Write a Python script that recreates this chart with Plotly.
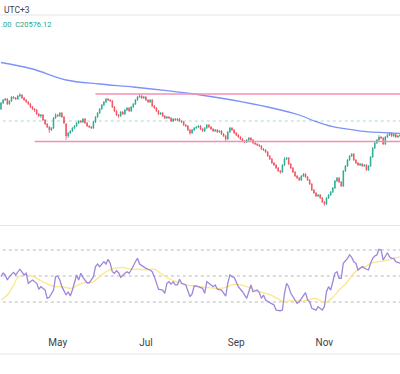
import plotly.graph_objects as go

# ---------------- data (daily bars, index 0..190) ----------------
opens = [
    21550,21850,22000,22050,21800,21950,22150,22100,22050,22200,
    22250,22100,22000,21900,21800,21650,21550,21500,21300,21200,
    21250,21000,20800,20650,20500,20600,21100,21250,21200,21350,
    21150,20800,20200,20350,20450,20600,20700,20850,20950,20900,
    21050,20850,20700,20650,20600,20900,21150,21350,
    21550,21750,21900,22050,22000,21950,21650,21450,21250,21200,
    21400,21300,21500,21600,21450,21650,21800,22000,22150,22200,
    22100,22150,22000,21900,22000,21700,21600,21450,21300,21350,
    21200,21100,21150,21100,20950,21050,21000,21050,20950,20900,
    20750,20700,20500,20350,20500,20600,20650,
    20700,20550,20450,20600,20750,20650,20550,20450,20500,20400,
    20450,20300,20200,20050,20400,20600,20500,20350,20250,20150,
    20050,19950,19900,20000,20100,20000,19850,19800,19750,19700,
    19550,19500,19400,19200,19050,18850,18750,18600,18450,18400,
    18750,19050,19100,18800,18600,18400,18200,18100,
    18000,18200,18300,18150,18000,17800,17500,17350,17200,17250,
    17100,16900,16800,17100,17250,17400,17600,17950,18100,17900,
    17700,18450,18700,19000,19200,19300,19000,18850,18750,18800,
    18700,18750,18500,18700,19150,19600,19850,20000,20150,20100,
    19800,20150,20250,20350,20200,20300,20150,20200,
]
highs = [
    21900,22050,22100,22100,22000,22200,22200,22150,22250,22350,
    22300,22150,22050,21950,21850,21700,21600,21550,21350,21300,
    21300,21050,20850,20700,20650,21150,21350,21300,21400,21400,
    21200,20850,20400,20500,20650,20750,20900,21000,21000,21100,
    21100,20900,20750,20700,20950,21200,21400,21600,
    21800,21950,22100,22100,22050,22000,21700,21500,21300,21450,
    21450,21550,21650,21650,21700,21850,22050,22200,22300,22250,
    22200,22200,22050,22050,22050,21750,21650,21500,21400,21400,
    21250,21200,21200,21150,21100,21100,21100,21100,21000,20950,
    20800,20750,20550,20550,20650,20700,20750,
    20750,20600,20650,20800,20800,20700,20600,20550,20550,20500,
    20500,20350,20250,20450,20650,20650,20550,20400,20300,20200,
    20100,20000,20050,20150,20150,20050,19900,19850,19800,19750,
    19600,19550,19450,19250,19100,18900,18800,18650,18500,18800,
    19150,19150,19150,18850,18650,18450,18250,18150,
    18250,18350,18350,18200,18050,17850,17550,17400,17300,17300,
    17150,16950,17150,17300,17450,17650,18000,18150,18150,17950,
    18500,18750,19050,19250,19350,19350,19050,18900,18850,18850,
    18800,18800,18750,19200,19650,19900,20050,20250,20200,20150,
    20200,20350,20400,20400,20350,20350,20250,20300,
]
lows = [
    21500,21800,21950,21750,21750,21900,22050,22000,22000,22150,
    22050,21950,21850,21750,21600,21500,21400,21250,21150,21100,
    20950,20750,20600,20350,20450,20550,21050,21150,21150,21100,
    20800,20000,20100,20300,20400,20550,20650,20800,20850,20850,
    20800,20650,20600,20550,20550,20850,21100,21300,
    21500,21700,21850,21950,21900,21600,21400,21200,21100,21150,
    21250,21250,21450,21400,21400,21600,21750,21950,22100,22050,
    22050,21950,21850,21850,21650,21550,21400,21250,21250,21150,
    21050,21050,21050,20900,20900,20950,20950,20900,20850,20700,
    20650,20450,20250,20300,20450,20550,20600,
    20500,20400,20400,20550,20600,20500,20400,20400,20350,20350,
    20250,20150,19950,20000,20350,20450,20300,20200,20100,20000,
    19900,19850,19850,19950,19950,19800,19750,19700,19650,19500,
    19450,19350,19150,19000,18800,18700,18550,18400,18300,18350,
    18700,19000,18750,18550,18350,18150,18050,17950,
    17950,18150,18100,17950,17750,17450,17300,17150,17150,17050,
    16850,16700,16750,17050,17200,17350,17550,17900,17850,17650,
    17650,18400,18650,18950,19150,18950,18800,18700,18700,18650,
    18650,18450,18450,18650,19100,19550,19800,19950,20050,19750,
    19750,20100,20200,20150,20150,20100,20100,20150,
]
closes = [
    21850,22000,22050,21800,21950,22150,22100,22050,22200,22250,
    22100,22000,21900,21800,21650,21550,21500,21300,21200,21250,
    21000,20800,20650,20500,20600,21100,21250,21200,21350,21150,
    20850,20200,20350,20450,20600,20700,20850,20950,20900,21050,
    20850,20700,20650,20600,20900,21150,21350,21550,
    21750,21900,22050,22000,21950,21650,21450,21250,21200,21400,
    21300,21500,21600,21450,21650,21800,22000,22150,22200,22100,
    22150,22000,21900,22000,21700,21600,21450,21300,21350,21200,
    21100,21150,21100,20950,21050,21000,21050,20950,20900,20750,
    20700,20500,20350,20500,20600,20650,20700,
    20550,20450,20600,20750,20650,20550,20450,20500,20400,20450,
    20300,20200,20050,20400,20600,20500,20350,20250,20150,20050,
    19950,19900,20000,20100,20000,19850,19800,19750,19700,19550,
    19500,19400,19200,19050,18850,18750,18600,18450,18400,18750,
    19050,19100,18800,18600,18400,18200,18100,18000,
    18200,18300,18150,18000,17800,17500,17350,17200,17250,17100,
    16900,16800,17100,17250,17400,17600,17950,18100,17900,17700,
    18450,18700,19000,19200,19300,19000,18850,18750,18800,18700,
    18750,18500,18700,19150,19600,19850,20000,20150,20100,19800,
    20150,20250,20350,20200,20300,20150,20200,20250,
]

# long moving average (blue line), read at selected bars
ma_idx = [0, 15, 31, 47, 63, 79, 95, 110, 127, 142, 150, 158, 166, 174, 190]
ma_vals = [23875, 23550, 23000, 22800, 22650, 22465, 22250, 22000, 21650,
           21250, 20915, 20665, 20535, 20415, 20335]

# RSI (purple) and its moving average (yellow)
rsi_idx = [0,1,2,3,4,6,7,8,9,11,12,13,15,17,18,19,21,22,23,25,
           26,27,28,29,30,31,32,33,34,35,36,37,38,39,41,42,44,45,46,47,
           49,50,51,52,53,54,55,56,57,59,60,61,62,64,65,66,68,69,71,72,
           73,74,75,77,78,79,80,81,82,83,84,85,86,88,89,90,91,92,93,95,
           96,97,98,99,101,102,103,105,107,108,109,110,111,112,113,115,116,117,118,119,
           120,122,123,124,125,126,128,130,131,133,134,135,136,137,138,140,141,142,143,145,
           146,147,148,150,151,152,153,154,155,156,157,158,159,160,161,162,163,165,166,167,
           168,169,170,171,172,174,175,176,177,178,179,180,181,182,183,184,185,186,187,188,
           190]
rsi_vals = [49.5,52.3,50.8,46.9,49.5,52.8,50.8,53.3,55.2,50.8,52.1,44.4,46.9,44.4,39.8,41.8,39.2,32.8,33.6,39.2,
            49.5,50.0,46.9,41.8,37.9,35.4,37.9,34.6,39.2,44.4,50.8,46.9,52.1,49.0,44.8,44.8,49.5,57.2,59.2,57.2,
            61.0,59.2,62.8,59.8,53.3,52.1,54.1,52.5,49.0,52.1,53.3,52.1,54.6,61.0,63.6,59.2,56.7,55.9,54.6,53.3,
            49.5,44.4,39.8,39.2,36.7,44.4,45.6,43.8,45.6,43.1,43.1,47.5,44.4,43.1,37.9,34.1,36.2,42.3,42.3,41.3,
            40.5,36.7,45.6,44.4,41.8,43.1,39.8,39.2,34.6,44.4,50.8,49.5,49.0,45.6,41.8,37.9,35.4,32.8,37.9,43.1,
            37.9,39.2,37.2,32.8,35.4,31.5,29.5,27.7,23.8,23.3,23.8,36.7,44.4,41.8,36.7,31.5,29.0,30.2,32.8,37.2,
            31.5,30.2,25.2,23.8,26.4,25.2,23.8,26.4,37.9,41.8,39.2,45.6,52.1,53.3,48.2,48.2,59.8,63.6,66.2,64.4,
            61.0,59.8,54.6,55.9,57.2,55.2,54.6,59.8,63.6,65.4,66.2,70.5,70.0,62.3,65.4,67.9,64.8,63.6,63.6,61.0,
            59.8]
rsima_idx = [0,3,6,8,11,14,17,20,23,26,29,31,34,36,39,42,44,47,50,53,
             57,60,63,66,69,73,76,79,82,85,88,92,95,99,104,107,111,114,117,120,
             123,127,130,133,135,138,141,144,147,150,152,154,156,158,161,165,168,171,174,177,
             180,184,187,190]
rsima_vals = [31.5,35.4,43.1,49.0,50.8,50.2,48.2,45.6,43.1,41.8,41.8,41.0,40.5,42.5,44.8,44.8,45.6,49.5,53.3,55.4,
              56.7,55.9,55.2,55.2,54.6,55.2,52.1,49.0,46.4,44.8,43.1,42.3,41.8,41.0,40.5,41.3,43.6,43.1,41.8,39.8,
              37.9,36.2,34.1,31.5,30.2,31.0,30.8,30.8,32.1,32.8,31.0,29.5,31.0,33.6,39.2,45.6,52.1,55.9,57.7,60.2,
              61.0,62.3,63.6,64.8]

month_idx = [27, 69, 112, 154]
month_labels = ["May", "Jul", "Sep", "Nov"]

resistance_level = 22300
resistance_start = 45
support_level = 19925
support_start = 16
last_price_level = 20950
rsi_bands = [70, 50, 30]
last_close_text = "C20576.12"

# ---------------- figure ----------------
W, H = 400, 374
bars = list(range(len(closes)))
x_end = bars[-1] + 6

def py(px):
    return 1 - px / H

fig = go.Figure()

fig.add_trace(go.Candlestick(
    x=bars, open=opens, high=highs, low=lows, close=closes,
    increasing=dict(line=dict(color="#22a88e", width=0.7), fillcolor="#22a88e"),
    decreasing=dict(line=dict(color="#f04b5a", width=0.7), fillcolor="#f04b5a"),
    whiskerwidth=0, xaxis="x", yaxis="y", hoverinfo="skip",
))

fig.add_trace(go.Scatter(
    x=ma_idx, y=ma_vals, mode="lines", line=dict(color="#7d93f7", width=1.3, shape="spline"),
    xaxis="x", yaxis="y", hoverinfo="skip",
))

fig.add_trace(go.Scatter(
    x=[bars[0] - 2, x_end], y=[last_price_level] * 2, mode="lines",
    line=dict(color="rgba(8,153,129,0.35)", width=1, dash="dot"),
    xaxis="x", yaxis="y", hoverinfo="skip",
))
fig.add_trace(go.Scatter(
    x=[resistance_start, x_end], y=[resistance_level] * 2, mode="lines",
    line=dict(color="#f48fb1", width=1.6), xaxis="x", yaxis="y", hoverinfo="skip",
))
fig.add_trace(go.Scatter(
    x=[support_start, x_end], y=[support_level] * 2, mode="lines",
    line=dict(color="#f48fb1", width=1.6), xaxis="x", yaxis="y", hoverinfo="skip",
))

for lvl in rsi_bands:
    fig.add_trace(go.Scatter(
        x=[bars[0] - 2, x_end], y=[lvl, lvl], mode="lines",
        line=dict(color="#b8b8b8", width=1, dash="3px,3px"),
        xaxis="x", yaxis="y2", hoverinfo="skip",
    ))

fig.add_trace(go.Scatter(
    x=rsima_idx, y=rsima_vals, mode="lines", line=dict(color="#fbe78a", width=1.3, shape="spline"),
    xaxis="x", yaxis="y2", hoverinfo="skip",
))
fig.add_trace(go.Scatter(
    x=rsi_idx, y=rsi_vals, mode="lines", line=dict(color="#9f86dd", width=1.3),
    xaxis="x", yaxis="y2", hoverinfo="skip",
))

px_per_bar = 2.1
x0_px = 1.0
x_lo = (0 - x0_px) / px_per_bar
x_hi = (W - x0_px) / px_per_bar

fig.update_layout(
    width=W, height=H, margin=dict(l=0, r=0, t=0, b=0),
    paper_bgcolor="white", plot_bgcolor="white", showlegend=False,
    boxgap=0.5,
    xaxis=dict(range=[x_lo, x_hi], anchor="y2", domain=[0, 1],
               tickvals=month_idx, ticktext=month_labels,
               ticks="outside", ticklen=5, tickcolor="rgba(0,0,0,0)",
               tickfont=dict(family="Roboto, Arial, sans-serif", size=10, color="#3b3f4a"),
               showgrid=False, zeroline=False, showline=False,
               rangeslider=dict(visible=False), fixedrange=True),
    yaxis=dict(domain=[py(225), py(16)], range=[15750, 26200],
               showticklabels=False, showgrid=False, zeroline=False, fixedrange=True),
    yaxis2=dict(domain=[py(328), py(226)], range=[10, 88.46],
                showticklabels=False, showgrid=False, zeroline=False, fixedrange=True),
)

for ypx in [15, 225.5, 354]:
    fig.add_shape(type="line", xref="paper", yref="paper", x0=0, x1=1,
                  y0=py(ypx), y1=py(ypx), line=dict(color="#e3e5ea", width=1.2))

fig.add_annotation(text="UTC+3", xref="paper", yref="paper", x=0.004, y=py(10),
                   xanchor="left", yanchor="middle", showarrow=False,
                   font=dict(family="Roboto, Arial, sans-serif", size=8.5, color="#3b3f4a"))
fig.add_annotation(text=".00  " + last_close_text, xref="paper", yref="paper", x=-0.003, y=py(24),
                   xanchor="left", yanchor="middle", showarrow=False,
                   font=dict(family="Roboto, Arial, sans-serif", size=7.5, color="#22a58a"))

fig.write_html("out.html", config=dict(displayModeBar=False, staticPlot=True),
               post_script="document.body.style.margin='0';document.body.style.padding='0';")
